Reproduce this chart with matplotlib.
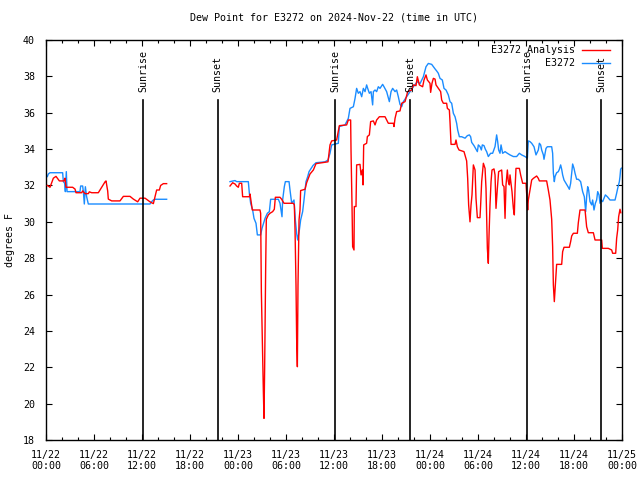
import numpy as np
import matplotlib
matplotlib.use("Agg")
import matplotlib.pyplot as plt
from matplotlib.lines import Line2D

# ---- data (hours since 2024-11-22 00:00 UTC, degrees F) ----
red_hours = [
    0.17, 0.5, 0.92, 1.25, 1.67, 2.25, 2.375, 2.5, 3.33, 3.63, 3.75, 4.46, 4.58, 4.88, 5.29, 5.42, 5.71,
    6.54, 7.38, 7.5, 7.71, 7.79, 8.21, 9.25, 9.67, 10.5, 10.92, 11.46, 11.75, 12.38, 13.0, 13.42, 13.83,
    14.17, 14.33, 14.67, 15.08,
    19.0,
    23.0, 23.33, 23.63, 23.83, 24.04, 24.17, 24.46, 24.58, 25.42, 25.5, 25.79, 26.75, 26.83, 26.92, 27.04,
    27.17, 27.25, 27.33, 27.46, 27.54, 27.79, 28.0, 28.33, 28.54, 28.67, 29.25, 29.46, 29.75, 30.92, 31.04,
    31.13, 31.25, 31.33, 31.42, 31.5, 31.63, 31.75, 31.83, 32.38, 32.58, 32.79, 33.0, 33.42,
    33.75, 34.5, 35.25,
    35.5, 35.71, 36.33, 36.67, 37.58, 37.79, 38.08, 38.13, 38.25, 38.33, 38.5, 38.54, 38.75, 38.83, 39.25,
    39.38, 39.54, 39.63, 39.71, 40.08, 40.17, 40.42, 40.58, 40.92, 41.13, 41.33, 41.67, 42.38, 42.58, 42.79,
    43.42, 43.5, 43.63, 43.83, 44.25, 44.46, 44.88, 45.21, 45.71, 45.92, 46.25, 46.42, 46.67,
    47.08, 47.25, 47.5, 47.67, 48.0, 48.08, 48.25, 48.42, 48.63, 48.75, 49.04, 49.17, 49.33, 49.46, 49.67,
    50.08, 50.17, 50.42, 50.5, 50.63, 51.13, 51.25, 51.42, 51.63, 51.96, 52.25, 52.58, 52.71, 52.83, 53.0,
    53.13, 53.25, 53.33, 53.42, 53.63, 53.75, 53.92, 54.25, 54.33, 54.46, 54.67, 54.88, 55.0, 55.17, 55.29,
    55.38, 55.5, 55.63, 55.75, 56.0, 56.13, 56.25, 56.42, 56.58, 56.96, 57.08, 57.25, 57.38, 57.5, 57.67,
    57.79, 57.92, 58.0, 58.25, 58.42, 58.54, 58.63, 58.75, 59.17, 59.33, 59.58, 60.0,
    60.21, 60.29, 60.5, 60.71, 60.92, 61.33, 61.54, 61.67, 62.58, 62.79, 63.0, 63.21, 63.33, 63.42, 63.54,
    63.63, 63.75, 63.83, 64.46, 64.58, 64.75, 65.42, 65.58, 65.71, 65.92, 66.42, 66.54, 66.75, 67.38, 67.58,
    67.79, 68.42, 68.63, 69.46, 69.54, 70.29, 70.71, 70.83, 71.21, 71.33, 71.46, 71.58, 71.75, 71.85,
]
red_vals = [
    32.0, 31.9, 32.4, 32.5, 32.25, 32.25, 32.4, 31.9, 31.9, 31.8, 31.6, 31.6, 31.7, 31.55, 31.55, 31.65, 31.6,
    31.6, 32.2, 32.25, 31.7, 31.25, 31.15, 31.15, 31.4, 31.4, 31.25, 31.1, 31.3, 31.3, 31.1, 31.0, 31.75,
    31.75, 32.0, 32.1, 32.1,
    np.nan,
    31.97, 32.15, 32.08, 31.97, 31.9, 32.12, 32.12, 31.38, 31.38, 31.53, 30.65, 30.65, 30.47, 26.16, 23.41,
    20.66, 19.19, 21.94, 27.53, 30.14, 30.38, 30.47, 30.56, 30.69, 31.35, 31.35, 31.24, 31.02, 31.02, 30.93,
    29.55, 26.53, 23.59, 22.03, 26.53, 30.1, 30.65, 31.72, 31.79, 32.15, 32.39, 32.63, 32.85,
    33.2, 33.25, 33.3,
    34.23, 34.45, 34.5, 35.29, 35.33, 35.6, 35.6, 33.86, 30.93, 28.63, 28.45, 30.84, 30.84, 33.13, 33.16,
    32.58, 32.85, 32.03, 34.23, 34.32, 34.69, 34.78, 35.51, 35.55, 35.33, 35.6, 35.78, 35.78, 35.6, 35.42,
    35.42, 35.24, 35.69, 36.06, 36.1, 36.52, 36.61, 37.16, 37.25, 37.53, 37.49, 37.98, 37.53,
    37.43, 37.8, 38.08, 37.8, 37.62, 37.12, 37.62, 37.89, 37.85, 37.53, 37.34, 37.25, 37.16, 36.7, 36.52,
    36.52, 36.24, 36.15, 35.51, 34.26, 34.26, 34.5, 34.13, 33.95, 33.9, 33.86, 33.35, 32.39, 30.93, 30.0,
    30.93, 31.48, 32.3, 33.13, 32.85, 31.29, 30.23, 30.23, 30.93, 32.21, 33.22, 32.94, 31.84, 28.54, 27.72,
    29.28, 30.93, 32.21, 32.85, 32.91, 32.58, 30.74, 31.84, 32.76, 32.85, 32.03, 31.94, 30.19, 32.03, 32.85,
    32.21, 32.03, 32.58, 31.66, 30.74, 30.38, 31.84, 32.94, 32.94, 32.58, 32.12, 32.12,
    30.65, 31.2, 31.75, 32.3, 32.39, 32.52, 32.39, 32.25, 32.25, 31.75, 31.2, 30.14, 28.63, 26.53, 25.61,
    26.25, 27.08, 27.66, 27.66, 28.36, 28.6, 28.6, 28.91, 29.22, 29.37, 29.37, 29.95, 30.65, 30.65, 29.73,
    29.4, 29.4, 29.0, 29.0, 28.54, 28.54, 28.45, 28.27, 28.27, 29.09, 29.55, 30.28, 30.69, 30.5,
]

blue_hours = [
    0.17, 0.29, 0.5, 2.08, 2.17, 2.33, 2.42, 2.54, 2.63, 2.79, 4.25, 4.33, 4.58, 4.67, 4.79, 4.92, 5.08, 5.29,
    13.0, 13.21, 13.42, 13.63, 15.08,
    19.0,
    23.0, 23.63, 23.83, 25.29, 25.42, 25.58, 25.83, 26.0, 26.25, 26.42, 26.83, 27.0, 27.38, 27.67, 27.92,
    28.08, 29.04, 29.25, 29.5, 29.58, 29.79, 29.92, 30.38, 30.5, 30.71, 31.0, 31.17, 31.33, 31.46, 31.67,
    31.83, 32.08, 32.25, 32.38, 32.5, 32.71, 32.88, 33.08,
    33.38, 33.75, 34.88, 35.25,
    35.5, 35.71, 36.54, 36.67, 37.38, 37.79, 38.0, 38.42, 38.63, 38.83, 39.04, 39.25, 39.46, 39.67, 39.88,
    40.08, 40.21, 40.42, 40.63, 40.83, 40.92, 41.13, 41.33, 41.54, 41.75, 42.08, 42.25, 42.58, 42.92, 43.13,
    43.33, 43.63, 43.83, 44.04, 44.25, 44.46, 44.67, 45.08, 45.5, 45.92, 46.42, 46.75,
    47.17, 47.5, 47.79, 48.21, 48.42, 48.63, 48.83, 49.04, 49.25, 49.54, 49.75, 50.0, 50.29, 50.5, 50.71,
    50.92, 51.13, 51.33, 51.46, 51.67, 51.96, 52.38, 52.67, 52.92, 53.08, 53.21, 53.5, 53.75, 53.92, 54.04,
    54.25, 54.42, 54.54, 54.75, 54.92, 55.08, 55.29, 55.58, 55.83, 56.13, 56.33, 56.46, 56.58, 56.75, 56.88,
    57.08, 57.38, 57.67, 58.0, 58.42, 58.83, 59.17, 59.46, 59.88, 60.17, 60.29,
    60.5, 60.71, 61.0, 61.25, 61.54, 61.67, 61.83, 61.96, 62.17, 62.25, 62.38, 62.5, 62.67, 63.21, 63.33,
    63.42, 63.54, 63.63, 63.83, 64.04, 64.17, 64.33, 64.46, 64.58, 64.75, 65.0, 65.29, 65.42, 65.58, 65.71,
    65.83, 66.0, 66.13, 66.33, 66.54, 66.83, 67.08, 67.29, 67.46, 67.58, 67.71, 67.83, 68.0, 68.21, 68.33,
    68.5, 68.67, 68.83, 68.96, 69.13, 69.25, 69.38, 69.58, 69.75, 69.92, 70.17, 70.5, 71.13, 71.33, 71.46,
    71.67, 71.75, 71.83, 71.92,
]
blue_vals = [
    32.49, 32.63, 32.7, 32.7, 32.21, 32.12, 31.66, 32.76, 31.66, 31.66, 31.66, 31.97, 31.97, 31.66, 30.98,
    31.93, 31.38, 30.98,
    30.98, 31.11, 31.2, 31.24, 31.24,
    np.nan,
    32.21, 32.27, 32.21, 32.21, 31.57, 31.02, 30.65, 30.19, 29.92, 29.28, 29.28, 29.64, 30.19, 30.47, 30.56,
    31.24, 31.24, 31.02, 30.28, 31.2, 31.93, 32.21, 32.21, 31.75, 31.02, 31.2, 30.1, 29.37, 29.0, 29.55,
    30.1, 30.56, 31.2, 31.75, 32.21, 32.48, 32.76, 32.9,
    33.1, 33.25, 33.3, 33.4,
    33.77, 34.23, 34.32, 35.24, 35.33, 35.69, 36.24, 36.33, 36.79, 37.34, 37.07, 37.16, 36.88, 37.34, 37.16,
    37.53, 37.34, 37.07, 37.16, 36.43, 37.16, 37.25, 37.16, 37.43, 37.34, 37.56, 37.43, 37.16, 36.61, 37.16,
    37.34, 37.16, 37.25, 36.88, 36.46, 36.33, 36.61, 36.88, 37.16, 37.43, 37.71, 37.6,
    37.98, 38.53, 38.71, 38.66, 38.53, 38.41, 38.3, 38.17, 37.89, 37.8, 37.34, 37.25, 36.98, 36.61, 36.52,
    35.97, 35.78, 35.42, 35.05, 34.68, 34.68, 34.6, 34.74, 34.78, 34.68, 34.37, 34.19, 33.99, 33.86, 34.23,
    34.14, 33.95, 34.23, 34.19, 33.99, 33.86, 33.59, 33.77, 33.77, 34.14, 34.78, 34.41, 33.95, 33.77, 34.23,
    33.77, 33.86, 33.77, 33.68, 33.59, 33.59, 33.77, 33.68, 33.59, 33.5, 34.45,
    34.41, 34.32, 34.13, 33.68, 33.95, 34.32, 34.23, 33.95, 33.68, 33.44, 33.77, 34.04, 34.13, 34.13, 33.77,
    32.67, 32.21, 32.49, 32.7, 32.76, 32.89, 33.13, 32.89, 32.58, 32.3, 32.12, 31.9, 31.79, 32.12, 32.67,
    33.18, 32.94, 32.67, 32.34, 32.34, 32.21, 31.66, 31.38, 30.56, 31.38, 31.93, 31.75, 31.11, 30.93, 31.2,
    30.65, 31.02, 31.2, 31.66, 31.48, 31.02, 31.2, 31.11, 31.29, 31.48, 31.38, 31.2, 31.2, 31.57, 31.84,
    32.21, 32.49, 32.89, 32.95,
]

sunrise_hours = [12.17, 36.18, 60.18]
sunset_hours = [21.47, 45.5, 69.43]

xtick_hours = [0, 6, 12, 18, 24, 30, 36, 42, 48, 54, 60, 66, 72]
xtick_labels = ["11/22\n00:00", "11/22\n06:00", "11/22\n12:00", "11/22\n18:00",
                "11/23\n00:00", "11/23\n06:00", "11/23\n12:00", "11/23\n18:00",
                "11/24\n00:00", "11/24\n06:00", "11/24\n12:00", "11/24\n18:00",
                "11/25\n00:00"]
ytick_vals = [18, 20, 22, 24, 26, 28, 30, 32, 34, 36, 38, 40]

title = "Dew Point for E3272 on 2024-Nov-22 (time in UTC)"
ylabel = "degrees F"
series_names = ["E3272 Analysis", "E3272"]

# ---- styling ----
plt.rcParams['font.family'] = ['DejaVu Sans Mono']
FS = 7.2
RED = '#ff0000'
BLUE = '#1a8cff'

fig = plt.figure(figsize=(6.4, 4.8), dpi=100)
ax = fig.add_axes([46/640, 40/480, 576/640, 400/480])

ax.plot(red_hours, red_vals, color=RED, lw=1.0, zorder=3)
ax.plot(blue_hours, blue_vals, color=BLUE, lw=1.0, zorder=2)

line_top = 36.72
label_y = 37.12
for h in sunrise_hours:
    ax.plot([h, h], [18, line_top], color='black', lw=1.2, zorder=4)
    ax.text(h, label_y, "Sunrise", rotation=90, ha='center', va='bottom', fontsize=FS, zorder=5)
for h in sunset_hours:
    ax.plot([h, h], [18, line_top], color='black', lw=1.2, zorder=4)
    ax.text(h, label_y, "Sunset", rotation=90, ha='center', va='bottom', fontsize=FS, zorder=5)

ax.set_xlim(0, 72)
ax.set_ylim(18, 40)
ax.set_xticks(xtick_hours)
ax.set_xticklabels(xtick_labels, fontsize=FS, linespacing=1.15)
ax.set_xticks(np.arange(0, 73, 2), minor=True)
ax.set_yticks(ytick_vals)
ax.set_yticklabels([str(v) for v in ytick_vals], fontsize=FS)
ax.tick_params(axis='both', which='major', direction='in', length=4, width=0.8,
               top=True, right=True, color='black')
ax.tick_params(axis='x', which='major', pad=7)
ax.tick_params(axis='y', which='major', pad=8)
ax.tick_params(axis='x', which='minor', direction='in', length=2.2, width=0.8, top=True)
for s in ax.spines.values():
    s.set_linewidth(1.0)
    s.set_color('black')

ax.set_title(title, fontsize=FS, pad=14)
ax.set_ylabel(ylabel, fontsize=FS, labelpad=6)

# legend (gnuplot style: right-aligned text, sample on the right)
leg_colors = [RED, BLUE]
for i, (name, c) in enumerate(zip(series_names, leg_colors)):
    ty = 1 - (10 + 12.7 * i) / 400
    ax.text((575 - 46) / 576, ty, name, ha='right', va='center', fontsize=FS,
            transform=ax.transAxes, zorder=6)
    ax.add_line(Line2D([(582 - 46) / 576, (610 - 46) / 576], [ty, ty], color=c, lw=1.0,
                       transform=ax.transAxes, zorder=6))

fig.savefig("out.png", dpi=100)
